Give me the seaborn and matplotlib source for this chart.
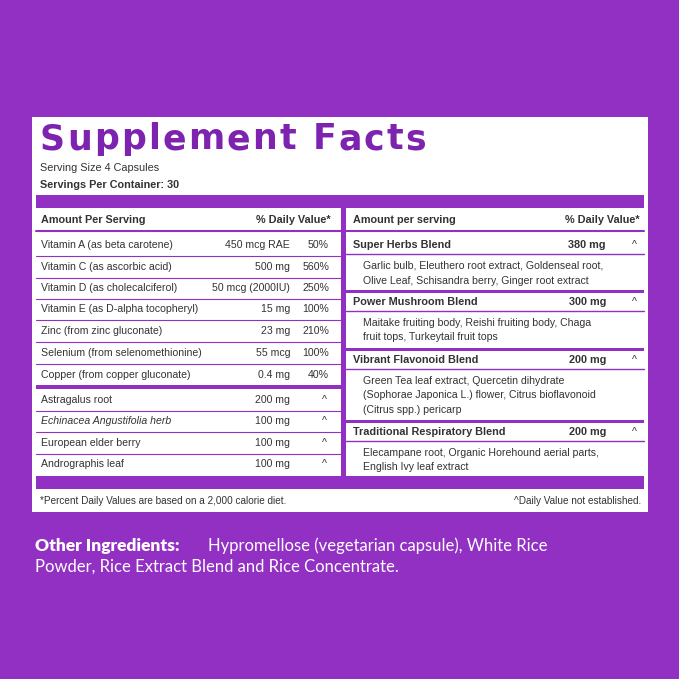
import matplotlib
matplotlib.use("Agg")
import matplotlib.pyplot as plt
import seaborn as sns

sns.set_theme(style="white")
plt.rcParams['font.family'] = ['Liberation Sans', 'DejaVu Sans']

PURPLE = "#9330C4"
TITLE = "#7E22B0"
left_names = ["Vitamin A (as beta carotene)", "Vitamin C (as ascorbic acid)", "Vitamin D (as cholecalciferol)",
              "Vitamin E (as D-alpha tocopheryl)", "Zinc (from zinc gluconate)", "Selenium (from selenomethionine)",
              "Copper (from copper gluconate)"]
left_amounts = ["450 mcg RAE", "500 mg", "50 mcg (2000IU)", "15 mg", "23 mg", "55 mcg", "0.4 mg"]
left_dv = ["50%", "560%", "250%", "100%", "210%", "100%", "40%"]
herb_names = ["Astragalus root", "Echinacea Angustifolia herb", "European elder berry", "Andrographis leaf"]
herb_amounts = ["200 mg", "100 mg", "100 mg", "100 mg"]
blend_names = ["Super Herbs Blend", "Power Mushroom Blend", "Vibrant Flavonoid Blend", "Traditional Respiratory Blend"]
blend_amounts = ["380 mg", "300 mg", "200 mg", "200 mg"]
blend_desc = [["Garlic bulb, Eleuthero root extract, Goldenseal root,", "Olive Leaf, Schisandra berry, Ginger root extract"],
              ["Maitake fruiting body, Reishi fruiting body, Chaga", "fruit tops, Turkeytail fruit tops"],
              ["Green Tea leaf extract, Quercetin dihydrate", "(Sophorae Japonica L.) flower, Citrus bioflavonoid", "(Citrus spp.) pericarp"],
              ["Elecampane root, Organic Horehound aerial parts,", "English Ivy leaf extract"]]

fig = plt.figure(figsize=(6.79, 6.79), dpi=100)
fig.patch.set_facecolor(PURPLE)
ax = fig.add_axes([0, 0, 1, 1])
ax.set_xlim(0, 679); ax.set_ylim(679, 0); ax.axis("off")

def rect(x0, y0, x1, y1, c):
    ax.add_patch(plt.Rectangle((x0, y0), x1 - x0, y1 - y0, color=c, lw=0))
def hline(y, x0, x1, lw=0.8):
    ax.plot([x0, x1], [y, y], color=PURPLE, lw=lw)
def t(x, y, s, size=7.6, ha="left", bold=False, color="#333333", **kw):
    ax.text(x, y, s, fontsize=size, ha=ha, va="center", fontweight="bold" if bold else "normal", color=color, **kw)

rect(32, 117, 648, 512, "white")
title = "Supplement Facts"
tx = 40
for ch in title:
    tt = ax.text(tx, 139, ch, fontsize=25, fontweight="heavy", color=TITLE, va="center", family=["DejaVu Sans"])
    fig.canvas.draw() if tx == 40 else None
    w = tt.get_window_extent(renderer=fig.canvas.get_renderer()).width
    tx += w + 2.2
t(40, 168, "Serving Size 4 Capsules", size=7.8)
t(40, 185, "Servings Per Container: 30", size=7.8, bold=True)
rect(36, 195, 644, 208, PURPLE)
rect(341, 208, 346, 476, PURPLE)
rect(36, 476, 644, 489, PURPLE)

t(41, 220, "Amount Per Serving", bold=True, size=7.8)
t(331, 220, "% Daily Value*", bold=True, size=7.8, ha="right")
hline(231, 36, 341, 1.5)
ys = [245, 267, 288, 309, 331, 353, 375]
for i, y in enumerate(ys):
    t(41, y, left_names[i]); t(290, y, left_amounts[i], ha="right"); t(329, y, left_dv[i], ha="right")
    if i < len(ys) - 1:
        hline(y + 11, 36, 341)
rect(36, 385, 341, 389, PURPLE)
hy = [400, 421, 443, 464]
for i, y in enumerate(hy):
    t(41, y, herb_names[i], style="italic" if "Echinacea" in herb_names[i] else "normal")
    t(290, y, herb_amounts[i], ha="right"); t(327, y, "^", ha="right")
    if i < len(hy) - 1:
        hline(y + 11, 36, 341)

t(353, 220, "Amount per serving", bold=True, size=7.8)
t(640, 220, "% Daily Value*", bold=True, size=7.8, ha="right")
hline(231, 346, 644, 1.5)
starts = [245, 302, 360, 432]
for i, y in enumerate(starts):
    t(353, y, blend_names[i], bold=True, size=7.8)
    t(606, y, blend_amounts[i], bold=True, size=7.8, ha="right")
    t(637, y, "^", ha="right")
    hline(y + 9, 346, 644, 1.0)
    for j, line in enumerate(blend_desc[i]):
        t(363, y + 21 + j * 14.5, line)
    if i < 3:
        rect(346, starts[i + 1] - 12, 644, starts[i + 1] - 9, PURPLE)

t(40, 501, "*Percent Daily Values are based on a 2,000 calorie diet.", size=7.2)
t(641, 501, "^Daily Value not established.", size=7.2, ha="right")

ax.text(35, 546, "Other Ingredients:", fontsize=12.5, fontweight="heavy", color="white", va="center", family=["Lato"])
ax.text(208, 546, "Hypromellose (vegetarian capsule), White Rice", fontsize=12, color="white", va="center", family=["Lato"])
ax.text(35, 567, "Powder, Rice Extract Blend and Rice Concentrate.", fontsize=12, color="white", va="center", family=["Lato"])

fig.savefig("out.png", dpi=100, facecolor=PURPLE)
